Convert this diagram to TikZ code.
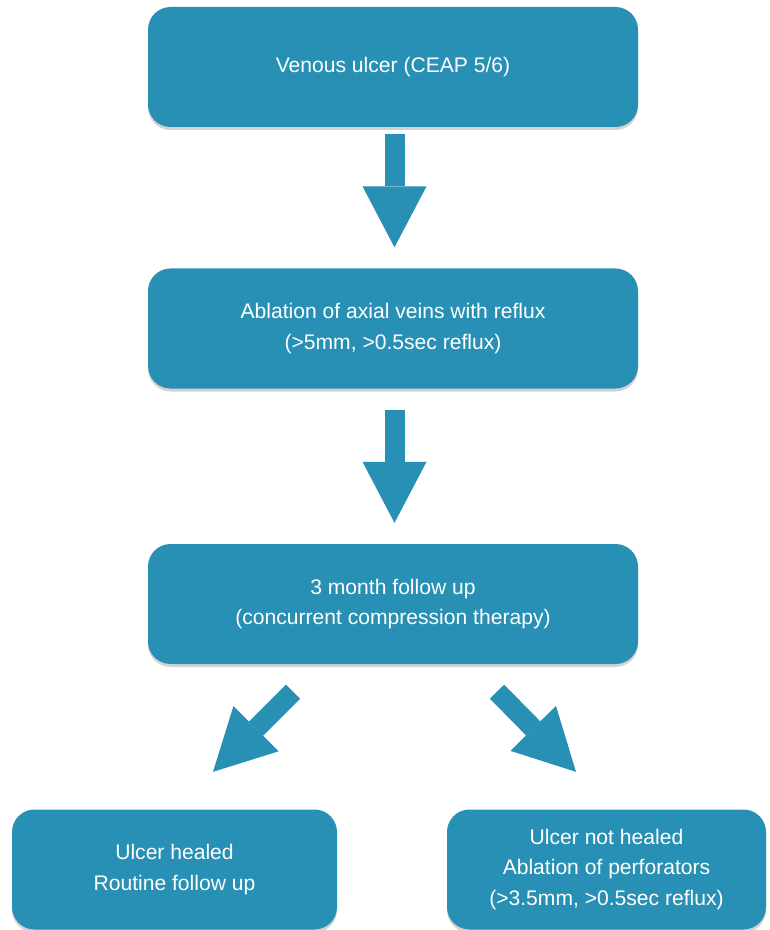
\documentclass[tikz,border=0pt]{standalone}
\usepackage{fontspec}
\setmainfont{Liberation Sans}
\usetikzlibrary{arrows.meta,positioning,calc,shadows}
\definecolor{ulcerblue}{HTML}{2890B4}
\tikzset{every picture/.style={line width=0.75pt}}
\tikzset{
  flowbox/.style={rectangle,rounded corners=0.45cm,fill=ulcerblue,text=white,align=center,
    minimum height=2.4cm,font=\fontsize{12}{17.5}\selectfont,
    drop shadow={shadow xshift=0pt,shadow yshift=-0.06cm,opacity=0.35}},
  bigarrow/.style={ulcerblue,line width=0.4cm,
    -{Triangle[width=1.28cm,length=1.22cm,line width=0pt]}}
}

\begin{document}
\begin{tikzpicture}
    \useasboundingbox (0,0) rectangle (15.38,-18.6);
    % 方框
    \node[flowbox,minimum width=9.8cm] (ulcer) at (7.86,-1.34) {Venous ulcer (CEAP 5/6)};
    \node[flowbox,minimum width=9.8cm] (ablation) at (7.86,-6.57)
        {Ablation of axial veins with reflux\\(>5mm, >0.5sec reflux)};
    \node[flowbox,minimum width=9.8cm] (followup) at (7.86,-12.08)
        {3 month follow up\\(concurrent compression therapy)};
    \node[flowbox,minimum width=6.5cm] (healed) at (3.49,-17.39)
        {Ulcer healed\\Routine follow up};
    \node[flowbox,minimum width=6.38cm] (nothealed) at (12.13,-17.39)
        {Ulcer not healed\\Ablation of perforators\\(>3.5mm, >0.5sec reflux)};
    % 箭头
    \draw[bigarrow] ([xshift=0.03cm,yshift=-0.12cm]ulcer.south) -- ([xshift=0.03cm,yshift=0.41cm]ablation.north);
    \draw[bigarrow] ([xshift=0.03cm,yshift=-0.41cm]ablation.south) -- ([xshift=0.03cm,yshift=0.41cm]followup.north);
    \draw[bigarrow] ([xshift=-2cm,yshift=-0.54cm]followup.south) -- ([xshift=0.77cm,yshift=0.74cm]healed.north);
    \draw[bigarrow] ([xshift=2.08cm,yshift=-0.54cm]followup.south) -- ([xshift=-0.61cm,yshift=0.74cm]nothealed.north);
\end{tikzpicture}
\end{document}
